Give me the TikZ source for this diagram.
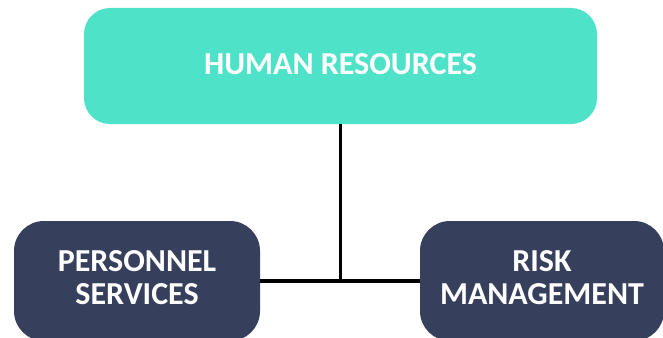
\documentclass[tikz,border=0pt]{standalone}
\usepackage{fontspec}
\setmainfont{Carlito}
\usetikzlibrary{positioning}
\definecolor{hrteal}{HTML}{4EE3C9}
\definecolor{deptnavy}{HTML}{363F5C}

\begin{document}
\begin{tikzpicture}[x=1pt, y=-1pt, font=\fontsize{32}{33}\selectfont\bfseries,
  headbox/.style={fill=hrteal, text=white, rounded corners=26pt, minimum width=513pt, minimum height=116pt, inner sep=0pt, text depth=3pt},
  deptbox/.style={fill=deptnavy, text=white, rounded corners=30pt, minimum width=246pt, minimum height=120pt, align=center, inner sep=0pt, text depth=7pt},
  link/.style={line width=3.2pt, black}]
\useasboundingbox (0, 0) rectangle (663, 337);
\node[headbox] (hr) at (340.5, 66) {HUMAN RESOURCES};
\node[deptbox] (ps) at (137, 281) {PERSONNEL\\SERVICES};
\node[deptbox, minimum width=244pt] (rm) at (542, 281) {RISK\\MANAGEMENT};
\coordinate (junc) at (hr.south |- ps.east);
\draw[link] (ps.east) -- (rm.west);
\draw[link] (hr.south) -- (junc);
\end{tikzpicture}
\end{document}
